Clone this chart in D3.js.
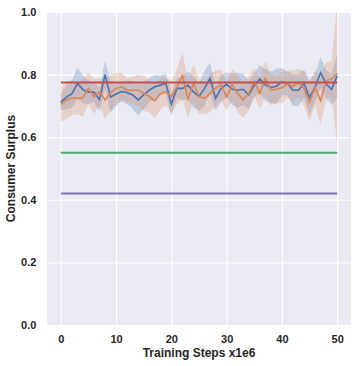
<!DOCTYPE html>
<html><head><meta charset="utf-8">
<script src="https://cdn.jsdelivr.net/npm/d3@7"></script>
<style>body{margin:0;background:#fff;} text{font-family:"Liberation Sans",Arial,sans-serif;}</style>
</head><body><svg id="c" width="358" height="366"></svg>
<script>
const steps = d3.range(0, 51);
const blueMean = [0.712,0.728,0.738,0.772,0.752,0.744,0.744,0.72,0.80,0.728,0.738,0.746,0.743,0.735,0.719,0.735,0.75,0.761,0.766,0.772,0.705,0.756,0.756,0.766,0.745,0.73,0.756,0.788,0.724,0.756,0.769,0.753,0.75,0.753,0.735,0.766,0.786,0.767,0.759,0.763,0.777,0.772,0.75,0.75,0.772,0.727,0.76,0.806,0.77,0.753,0.796];
const blueErr = [0.025,0.038,0.044,0.05,0.044,0.038,0.031,0.038,0.044,0.05,0.038,0.031,0.038,0.044,0.05,0.044,0.038,0.038,0.031,0.031,0.038,0.031,0.038,0.044,0.05,0.044,0.056,0.05,0.038,0.044,0.038,0.05,0.056,0.05,0.044,0.038,0.044,0.05,0.05,0.056,0.044,0.038,0.05,0.05,0.044,0.056,0.044,0.05,0.044,0.05,0.07];
const orangeMean = [0.705,0.719,0.726,0.724,0.726,0.756,0.73,0.745,0.719,0.742,0.756,0.761,0.75,0.75,0.75,0.74,0.73,0.716,0.738,0.745,0.73,0.76,0.797,0.722,0.772,0.73,0.724,0.74,0.756,0.767,0.729,0.767,0.74,0.719,0.74,0.777,0.74,0.788,0.751,0.753,0.758,0.77,0.762,0.775,0.755,0.712,0.758,0.716,0.78,0.786,0.804];
const orangeErr = [0.056,0.06,0.056,0.05,0.06,0.05,0.056,0.044,0.06,0.056,0.05,0.044,0.038,0.044,0.05,0.056,0.05,0.056,0.05,0.044,0.05,0.056,0.075,0.06,0.06,0.056,0.05,0.06,0.056,0.05,0.044,0.05,0.06,0.056,0.056,0.044,0.05,0.056,0.05,0.044,0.05,0.044,0.05,0.044,0.056,0.06,0.056,0.075,0.06,0.056,0.23];
const baselines = [
  {value: 0.775, color: "#C44E52"},
  {value: 0.55, color: "#55A868"},
  {value: 0.42, color: "#8172B3"}
];
const xTicks = [0, 10, 20, 30, 40, 50];
const yTicks = [0, 0.2, 0.4, 0.6, 0.8, 1.0];
const xLabel = "Training Steps x1e6";
const yLabel = "Consumer Surplus";

const svg = d3.select("#c");
const L = 47, R = 351, T = 12, B = 325;
const x = d3.scaleLinear().domain([-2.5, 52.5]).range([L, R]);
const y = d3.scaleLinear().domain([0, 1]).range([B, T]);

svg.append("rect").attr("x", L).attr("y", T).attr("width", R - L).attr("height", B - T).attr("fill", "#EAEAF2");
svg.append("defs").append("clipPath").attr("id", "clip").append("rect")
  .attr("x", L).attr("y", T).attr("width", R - L).attr("height", B - T);

const gx = svg.append("g").attr("transform", `translate(0,${B})`)
  .call(d3.axisBottom(x).tickValues(xTicks).tickSize(-(B - T)).tickFormat(d3.format("d")));
const gy = svg.append("g").attr("transform", `translate(${L},0)`)
  .call(d3.axisLeft(y).tickValues(yTicks).tickSize(-(R - L)).tickFormat(d3.format(".1f")));
[gx, gy].forEach(g => {
  g.select(".domain").remove();
  g.selectAll(".tick line").attr("stroke", "#fff").attr("stroke-width", 1.1);
  g.selectAll(".tick text").attr("fill", "#262626").attr("font-size", 11).attr("font-weight", "bold");
});
gx.selectAll(".tick text").attr("dy", "1.35em");
gy.selectAll(".tick text").attr("dx", "-0.7em");

const plot = svg.append("g").attr("clip-path", "url(#clip)");
function series(mean, err, color) {
  const area = d3.area().x((d, i) => x(steps[i])).y0((d, i) => y(mean[i] - err[i])).y1((d, i) => y(mean[i] + err[i]));
  plot.append("path").attr("d", area(mean)).attr("fill", color).attr("fill-opacity", 0.25).attr("stroke", "none");
}
series(blueMean, blueErr, "#4C72B0");
series(orangeMean, orangeErr, "#DD8452");
const line = (mean) => d3.line().x((d, i) => x(steps[i])).y((d, i) => y(mean[i]))(mean);
plot.append("path").attr("d", line(blueMean)).attr("fill", "none").attr("stroke", "#4C72B0").attr("stroke-width", 1.6);
plot.append("path").attr("d", line(orangeMean)).attr("fill", "none").attr("stroke", "#DD8452").attr("stroke-width", 1.6);
baselines.forEach(b => {
  plot.append("line").attr("x1", x(0)).attr("x2", x(50)).attr("y1", y(b.value)).attr("y2", y(b.value))
    .attr("stroke", b.color).attr("stroke-width", 2);
});

svg.append("text").attr("x", (L + R) / 2).attr("y", 357).attr("text-anchor", "middle")
  .attr("font-size", 12).attr("font-weight", "bold").attr("fill", "#262626").text(xLabel);
svg.append("text").attr("transform", `translate(15,${(T + B) / 2}) rotate(-90)`).attr("text-anchor", "middle")
  .attr("font-size", 12).attr("font-weight", "bold").attr("fill", "#262626").text(yLabel);
</script></body></html>
